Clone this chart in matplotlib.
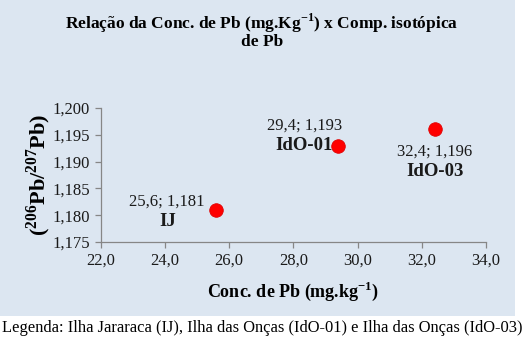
import matplotlib
matplotlib.use("Agg")
import matplotlib.pyplot as plt
from matplotlib.patches import Rectangle
from matplotlib.ticker import FuncFormatter

# amostras: concentração de Pb x razão isotópica 206Pb/207Pb
sites = ['IJ', 'IdO-01', 'IdO-03']
conc_pb = [25.6, 29.4, 32.4]
ratio_pb = [1.181, 1.193, 1.196]

x_ticks = [22.0, 24.0, 26.0, 28.0, 30.0, 32.0, 34.0]
y_ticks = [1.175, 1.180, 1.185, 1.190, 1.195, 1.200]

plt.rcParams['font.family'] = ['Liberation Serif', 'DejaVu Serif']
plt.rcParams['mathtext.fontset'] = 'custom'
plt.rcParams['mathtext.rm'] = 'Liberation Serif'
plt.rcParams['mathtext.bf'] = 'Liberation Serif:bold'

bg = '#dce6f1'
fig = plt.figure(figsize=(5.24, 3.46), dpi=100, facecolor='white')
fig.patches.append(Rectangle((0, 1 - 316 / 346), 515 / 524, 316 / 346,
                             transform=fig.transFigure, facecolor=bg,
                             edgecolor='none', zorder=-5))

ax = fig.add_axes([0.192, 0.3006, 0.7355, 0.3873])
ax.set_facecolor('none')

ax.scatter(conc_pb, ratio_pb, s=95, color='#ff0000', edgecolors='#e00000',
           linewidths=0.6, zorder=3, clip_on=False)

def br(v, nd):
    return f'{v:.{nd}f}'.replace('.', ',')

# posição dos rótulos (deslocamento em pixels) para cada ponto
offsets = [(-49, 8), (-34, 20), (0, -22)]
for name, x, y, (dx, dy) in zip(sites, conc_pb, ratio_pb, offsets):
    ax.annotate(f'{br(x, 1)}; {br(y, 3)}', (x, y), xytext=(dx, dy),
                textcoords='offset pixels', ha='center', va='center',
                fontsize=12, color='#1a1a1a')
    ax.annotate(name, (x, y), xytext=(dx, dy - 20),
                textcoords='offset pixels', ha='center', va='center',
                fontsize=13.5, fontweight='bold', color='#1a1a1a')

ax.set_xlim(22, 34)
ax.set_ylim(1.175, 1.200)
ax.set_xticks(x_ticks)
ax.set_yticks(y_ticks)
ax.xaxis.set_major_formatter(FuncFormatter(lambda v, p: br(v, 1)))
ax.yaxis.set_major_formatter(FuncFormatter(lambda v, p: br(v, 3)))
ax.tick_params(labelsize=12, colors='#868686', labelcolor='#1a1a1a',
               length=4, width=0.9, direction='out')

for s in ['top', 'right']:
    ax.spines[s].set_visible(False)
for s in ['left', 'bottom']:
    ax.spines[s].set_color('#868686')
    ax.spines[s].set_linewidth(0.9)

ax.set_xlabel(r'Conc. de Pb (mg.kg$^{\mathbf{-1}}$)', fontsize=13,
              fontweight='bold', labelpad=8)
ax.set_ylabel(r'($^{\mathbf{206}}$Pb/$^{\mathbf{207}}$Pb)', fontsize=16,
              fontweight='bold', labelpad=-0.5)

fig.text(0.5, 1 - 23 / 346, r'Relação da Conc. de Pb (mg.Kg$^{\mathbf{-1}}$) x Comp. isotópica',
         ha='center', va='center', fontsize=12.5, fontweight='bold')
fig.text(0.5, 1 - 42 / 346, 'de Pb', ha='center', va='center',
         fontsize=12.5, fontweight='bold')

fig.text(0.003, 1 - 328 / 346,
         'Legenda: Ilha Jararaca (IJ), Ilha das Onças (IdO-01) e Ilha das Onças (IdO-03)',
         ha='left', va='center', fontsize=11.9)

fig.savefig('out.png', dpi=100, facecolor='white')
